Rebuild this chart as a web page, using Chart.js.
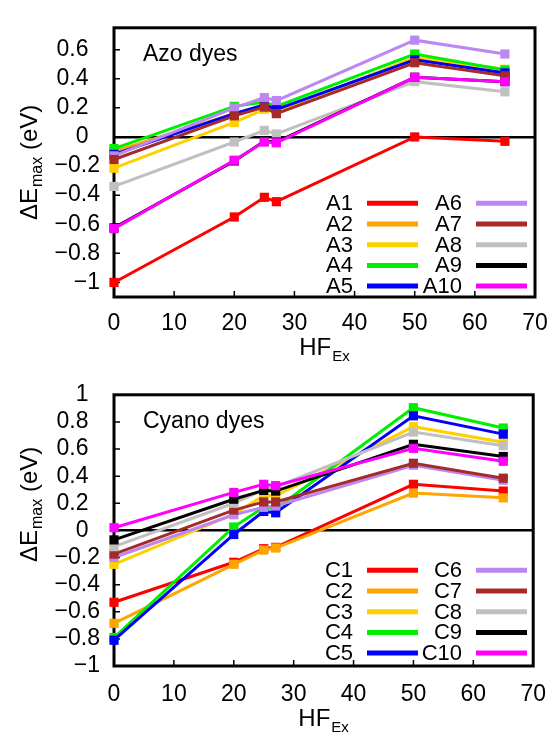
<!DOCTYPE html>
<html>
<head>
<meta charset="utf-8">
<script src="https://cdn.jsdelivr.net/npm/chart.js@4.4.1/dist/chart.umd.min.js"></script>
<style>
  body { margin: 0; background: #fff; }
  #wrap { position: relative; width: 553px; height: 734px; }
  canvas { position: absolute; left: 0; }
</style>
</head>
<body>
<div id="wrap">
  <canvas id="azoChart" width="553" height="367" style="top:0"></canvas>
  <canvas id="cyanoChart" width="553" height="367" style="top:367px"></canvas>
</div>
<script>
// HF exchange (%) for each functional
const hfEx = [0, 20, 25, 27, 50, 65];
const xTicks = [0, 10, 20, 30, 40, 50, 60, 70];
const yTicksAzo = [-1, -0.8, -0.6, -0.4, -0.2, 0, 0.2, 0.4, 0.6];
const yTicksCyano = [-1, -0.8, -0.6, -0.4, -0.2, 0, 0.2, 0.4, 0.6, 0.8, 1];

const dyeColors = ['#ff0000', '#ffa500', '#ffd000', '#00ee00', '#0000ff',
                   '#bb88f2', '#a52a2a', '#c0c0c0', '#000000', '#ff00ff'];

// Azo dyes, dE_max (eV)
const azoNames = ['A1', 'A2', 'A3', 'A4', 'A5', 'A6', 'A7', 'A8', 'A9', 'A10'];
const a1  = [-1.00, -0.55, -0.415, -0.445, 0.00, -0.03];
const a2  = [-0.10, 0.16, 0.21, 0.18, 0.535, 0.44];
const a3  = [-0.215, 0.10, 0.19, 0.17, 0.545, 0.465];
const a4  = [-0.08, 0.21, 0.24, 0.21, 0.57, 0.46];
const a5  = [-0.12, 0.16, 0.22, 0.19, 0.53, 0.44];
const a6  = [-0.13, 0.20, 0.27, 0.25, 0.665, 0.57];
const a7  = [-0.155, 0.145, 0.205, 0.16, 0.51, 0.42];
const a8  = [-0.34, -0.035, 0.045, 0.02, 0.38, 0.31];
const a9  = [-0.625, -0.165, -0.03, -0.035, 0.41, 0.38];
const a10 = [-0.63, -0.16, -0.035, -0.04, 0.41, 0.38];

// Cyano dyes, dE_max (eV)
const cyanoNames = ['C1', 'C2', 'C3', 'C4', 'C5', 'C6', 'C7', 'C8', 'C9', 'C10'];
const c1  = [-0.53, -0.235, -0.135, -0.125, 0.34, 0.29];
const c2  = [-0.685, -0.25, -0.145, -0.13, 0.275, 0.24];
const c3  = [-0.25, 0.12, 0.255, 0.255, 0.765, 0.65];
const c4  = [-0.79, 0.025, 0.17, 0.16, 0.905, 0.755];
const c5  = [-0.81, -0.03, 0.14, 0.13, 0.845, 0.71];
const c6  = [-0.20, 0.115, 0.17, 0.18, 0.48, 0.37];
const c7  = [-0.175, 0.15, 0.21, 0.21, 0.495, 0.385];
const c8  = [-0.12, 0.20, 0.30, 0.32, 0.725, 0.625];
const c9  = [-0.07, 0.23, 0.295, 0.29, 0.635, 0.545];
const c10 = [0.02, 0.28, 0.34, 0.33, 0.605, 0.51];

const FONT = '"Liberation Sans", Arial, Helvetica, sans-serif';

function buildDatasets(names, series) {
    return series.map((vals, i) => ({
        label: names[i],
        data: vals.map((v, j) => ({ x: hfEx[j], y: v })),
        borderColor: dyeColors[i],
        backgroundColor: dyeColors[i],
        borderWidth: 3,
        pointStyle: 'rect',
        pointRadius: 6.5,
        pointBorderWidth: 0,
        pointBackgroundColor: dyeColors[i],
        clip: false,
        order: names.length - i   // last series on top
    }));
}

// frame, inner ticks, legend and texts
function decorPlugin(cfg) {
    return {
        id: 'decor',
        beforeDatasetsDraw(chart) {
            const { ctx, chartArea: a, scales } = chart;
            ctx.save();
            ctx.strokeStyle = '#000';
            ctx.lineWidth = 1.5;
            ctx.beginPath();
            scales.y.ticks.forEach(t => {
                const y = scales.y.getPixelForValue(t.value);
                ctx.moveTo(a.left, y); ctx.lineTo(a.left + 6, y);
            });
            scales.x.ticks.forEach(t => {
                const x = scales.x.getPixelForValue(t.value);
                ctx.moveTo(x, a.bottom); ctx.lineTo(x, a.bottom - 6);
            });
            ctx.stroke();
            ctx.lineWidth = 3;
            ctx.strokeRect(a.left, a.top, a.right - a.left, a.bottom - a.top);
            ctx.restore();
        },
        afterDraw(chart) {
            const { ctx, chartArea: a } = chart;
            ctx.save();
            ctx.fillStyle = '#000';

            // panel title
            ctx.font = '23px ' + FONT;
            ctx.textAlign = 'left';
            ctx.textBaseline = 'middle';
            ctx.fillText(cfg.title, a.left + 29, a.top + 27);

            // legend, two columns
            ctx.font = '22px ' + FONT;
            ctx.textAlign = 'right';
            cfg.names.forEach((name, i) => {
                const col = i < 5 ? 0 : 1;
                const row = i % 5;
                const y = a.top + 175.5 + row * 20.7;
                const xt = a.left + (col === 0 ? 239 : 348);
                ctx.fillStyle = '#000';
                ctx.fillText(name, xt, y + 1);
                ctx.strokeStyle = dyeColors[i];
                ctx.lineWidth = 5;
                ctx.beginPath();
                ctx.moveTo(xt + 14, y);
                ctx.lineTo(xt + 65, y);
                ctx.stroke();
            });

            // x title HF_Ex
            ctx.fillStyle = '#000';
            ctx.textBaseline = 'middle';
            ctx.textAlign = 'left';
            ctx.font = '24px ' + FONT;
            const wHF = ctx.measureText('HF').width;
            ctx.font = '15px ' + FONT;
            const wEx = ctx.measureText('Ex').width;
            let x0 = (a.left + a.right) / 2 - (wHF + wEx + 1) / 2;
            const yx = a.bottom + cfg.xTitleGap;
            ctx.font = '24px ' + FONT;
            ctx.fillText('HF', x0, yx);
            ctx.font = '15px ' + FONT;
            ctx.fillText('Ex', x0 + wHF + 1, yx + 9);

            // y title dE_max (eV), rotated
            ctx.translate(30, (a.top + a.bottom) / 2 + cfg.yTitleShift);
            ctx.rotate(-Math.PI / 2);
            ctx.font = '24px ' + FONT;
            const wD = ctx.measureText('\u0394E').width;
            const wU = ctx.measureText(' (eV)').width;
            ctx.font = '16px ' + FONT;
            const wM = ctx.measureText('max').width;
            let s = -(wD + wM + wU + 1) / 2;
            ctx.font = '24px ' + FONT;
            ctx.fillText('\u0394E', s, 0);
            ctx.font = '16px ' + FONT;
            ctx.fillText('max', s + wD + 1, 8);
            ctx.font = '24px ' + FONT;
            ctx.fillText(' (eV)', s + wD + wM + 1, 0);
            ctx.restore();
        }
    };
}

function makeChart(canvasId, names, series, yMin, yMax, yTicks, cfg) {
    const ctx = document.getElementById(canvasId).getContext('2d');
    return new Chart(ctx, {
        type: 'line',
        data: { datasets: buildDatasets(names, series) },
        options: {
            responsive: false,
            animation: false,
            layout: { padding: { left: 0, right: 18, top: cfg.padTop, bottom: 0 } },
            plugins: {
                legend: { display: false },
                tooltip: { enabled: false }
            },
            scales: {
                x: {
                    type: 'linear',
                    min: 0, max: 70,
                    afterBuildTicks: s => { s.ticks = xTicks.map(v => ({ value: v })); },
                    afterFit: s => { s.height = cfg.xHeight; },
                    grid: { display: false },
                    border: { display: false },
                    ticks: {
                        autoSkip: false,
                        padding: cfg.xPad,
                        color: '#000',
                        font: { family: FONT, size: 23 },
                        maxRotation: 0
                    }
                },
                y: {
                    type: 'linear',
                    min: yMin, max: yMax,
                    afterBuildTicks: s => { s.ticks = yTicks.map(v => ({ value: v })); },
                    afterFit: s => { s.width = 114; },
                    grid: {
                        drawTicks: false,
                        lineWidth: 2.5,
                        color: c => (c.tick && Math.abs(c.tick.value) < 1e-9) ? '#000' : 'rgba(0,0,0,0)'
                    },
                    border: { display: false },
                    ticks: {
                        autoSkip: false,
                        padding: 14,
                        color: '#000',
                        font: { family: FONT, size: 23 },
                        callback: v => {
                            const r = Math.round(v * 10) / 10;
                            return r < 0 ? '\u2212' + String(-r) : String(r) + '\u2002';
                        }
                    }
                }
            }
        },
        plugins: [decorPlugin(cfg)]
    });
}

makeChart('azoChart', azoNames, [a1, a2, a3, a4, a5, a6, a7, a8, a9, a10],
    -1.1, 0.75, yTicksAzo,
    { title: 'Azo dyes', names: azoNames, padTop: 15, xHeight: 70, xPad: 5, xTitleGap: 51, yTitleShift: 0 });

makeChart('cyanoChart', cyanoNames, [c1, c2, c3, c4, c5, c6, c7, c8, c9, c10],
    -1, 1, yTicksCyano,
    { title: 'Cyano dyes', names: cyanoNames, padTop: 17, xHeight: 68, xPad: 7, xTitleGap: 53, yTitleShift: -26 });
</script>
</body>
</html>
